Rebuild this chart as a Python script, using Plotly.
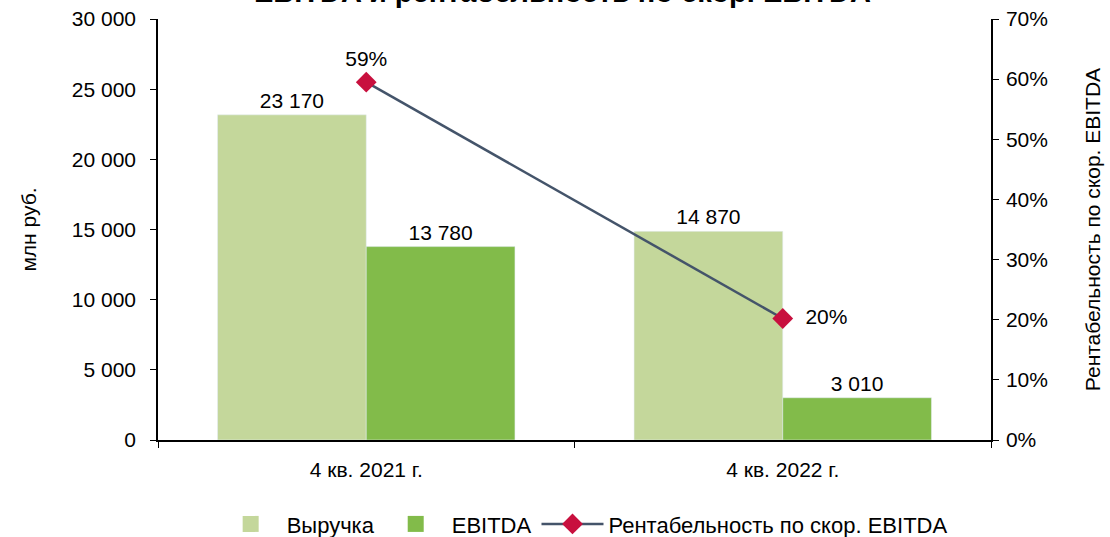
import plotly.graph_objects as go

categories = ["4 кв. 2021 г.", "4 кв. 2022 г."]
revenue = [23170, 14870]
ebitda = [13780, 3010]
margin = [0.595, 0.202]
margin_labels = ["59%", "20%"]

FONT = "Liberation Sans, Arial, sans-serif"
FS = 21
LIGHT = "#C4D79B"
DARK = "#82BB4A"

fig = go.Figure()
fig.add_trace(go.Bar(
    x=categories, y=revenue, name="Выручка", showlegend=False,
    marker_color=LIGHT,
    texttemplate="%{y:,d}", textposition="outside", cliponaxis=False,
    textfont=dict(size=FS, color="#000000"),
))
fig.add_trace(go.Bar(
    x=categories, y=ebitda, name="EBITDA", showlegend=False,
    marker_color=DARK,
    texttemplate="%{y:,d}", textposition="outside", cliponaxis=False,
    textfont=dict(size=FS, color="#000000"),
))
# legend-only entries with larger square swatches
fig.add_trace(go.Scatter(x=[None], y=[None], mode="markers", name="Выручка",
                         marker=dict(symbol="square", size=30, color=LIGHT)))
fig.add_trace(go.Scatter(x=[None], y=[None], mode="markers", name="EBITDA",
                         marker=dict(symbol="square", size=30, color=DARK)))
fig.add_trace(go.Scatter(
    x=categories, y=margin, name="Рентабельность по скор. EBITDA",
    yaxis="y2", mode="lines+markers+text",
    line=dict(color="#44546A", width=2.5),
    marker=dict(symbol="diamond", size=16, color="#C8103E"),
    text=margin_labels, textposition=["top center", "middle right"],
    texttemplate=["%{text}", "\u00a0\u00a0%{text}"],
    textfont=dict(size=FS, color="#000000"),
    cliponaxis=False,
))

fig.add_annotation(
    text="<b>EBITDA и рентабельность по скор. EBITDA</b>",
    xref="paper", yref="paper", x=0.485, y=1.022, yanchor="bottom",
    showarrow=False, font=dict(size=29, color="#000000", family=FONT),
)

fig.update_layout(
    width=1110, height=537,
    margin=dict(l=158, r=119, t=19, b=97),
    paper_bgcolor="white", plot_bgcolor="white",
    font=dict(family=FONT, size=FS, color="#000000"),
    separators=", ",
    barmode="group", bargap=0.286, bargroupgap=0,
    showlegend=True,
    legend=dict(orientation="h", x=0.511, xanchor="center",
                yref="container", y=0.024, yanchor="middle",
                font=dict(size=22), traceorder="normal", itemsizing="trace",
                itemwidth=62),
    xaxis=dict(showline=True, linecolor="#000000", linewidth=1.5, automargin=False,
               ticks="outside", tickson="boundaries", ticklen=6, tickcolor="#000000",
               showgrid=False, tickfont=dict(size=FS), ticklabelstandoff=10),
    yaxis=dict(range=[0, 30000], dtick=5000, tickformat=",d", automargin=False,
               showline=True, linecolor="#000000", linewidth=1.5,
               ticks="outside", ticklen=6, tickcolor="#000000",
               showgrid=False, zeroline=False, ticklabelstandoff=10,
               title=dict(text="млн руб.", font=dict(size=FS), standoff=29)),
    yaxis2=dict(range=[0, 0.7], dtick=0.1, tickformat=".0%", overlaying="y", side="right",
                automargin=False,
                showline=True, linecolor="#000000", linewidth=1.5,
                ticks="outside", ticklen=6, tickcolor="#000000",
                showgrid=False, zeroline=False, ticklabelstandoff=3,
                title=dict(text="Рентабельность по скор. EBITDA", font=dict(size=FS), standoff=38)),
)

fig.write_html("out.html", config={"displayModeBar": False},
               post_script="document.body.style.margin='0';")
